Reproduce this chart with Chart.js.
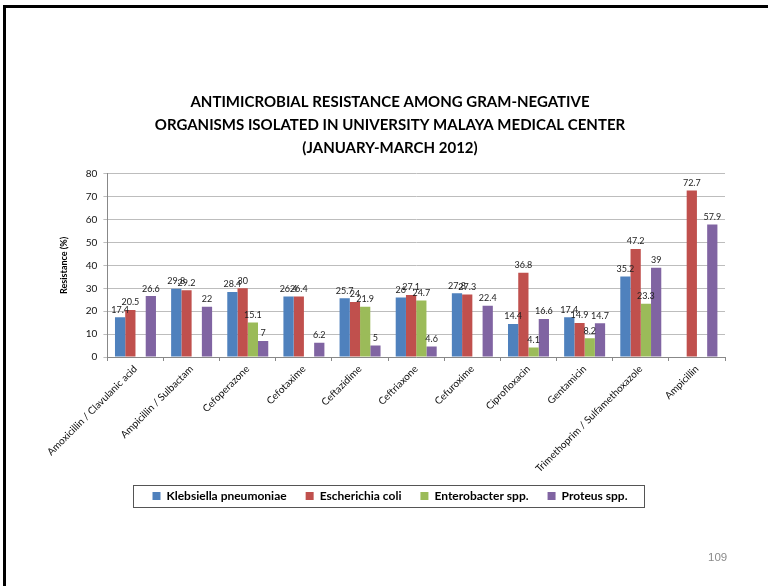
<!DOCTYPE html>
<html>
<head>
<meta charset="utf-8">
<script src="https://cdn.jsdelivr.net/npm/chart.js@4/dist/chart.umd.min.js"></script>
<style>
  html, body { margin: 0; padding: 0; background: #fff; }
  #wrap { position: relative; width: 768px; height: 586px; overflow: hidden; }
  #frame { position: absolute; left: 3px; top: 5px; width: 780px; height: 600px;
           border-top: 3px solid #000; border-left: 3px solid #000; box-sizing: border-box; }
  #c { position: absolute; left: 0; top: 0; }
  #page { position: absolute; left: 708px; top: 551px; font: 11.5px "Liberation Sans", Arial, sans-serif; color: #8a8a8a; }
</style>
</head>
<body>
<div id="wrap">
  <div id="frame"></div>
  <canvas id="c" width="768" height="586"></canvas>
  <div id="page">109</div>
</div>
<script>
const categories = [
  "Amoxicillin / Clavulanic acid", "Ampicillin / Sulbactam", "Cefoperazone", "Cefotaxime",
  "Ceftazidime", "Ceftriaxone", "Cefuroxime", "Ciprofloxacin", "Gentamicin",
  "Trimethoprim / Sulfamethoxazole", "Ampicillin"
];
const klebsiella   = [17.4, 29.8, 28.4, 26.4, 25.7, 26, 27.8, 14.4, 17.4, 35.2, null];
const ecoli        = [20.5, 29.2, 30, 26.4, 24, 27.1, 27.3, 36.8, 14.9, 47.2, 72.7];
const enterobacter = [null, null, 15.1, null, 21.9, 24.7, null, 4.1, 8.2, 23.3, null];
const proteus      = [26.6, 22, 7, 6.2, 5, 4.6, 22.4, 16.6, 14.7, 39, 57.9];
const seriesNames  = ["Klebsiella pneumoniae", "Escherichia coli", "Enterobacter spp.", "Proteus spp."];
const yTicks       = [0, 10, 20, 30, 40, 50, 60, 70, 80];
const titleLines   = [
  "ANTIMICROBIAL RESISTANCE AMONG GRAM-NEGATIVE",
  "ORGANISMS ISOLATED IN UNIVERSITY MALAYA MEDICAL CENTER",
  "(JANUARY-MARCH 2012)"
];

const colors = ["#4F81BD", "#C0504D", "#9BBB59", "#8064A2"];
const FONT = "Lato, 'Open Sans', sans-serif";

const valueLabels = {
  id: "valueLabels",
  afterDatasetsDraw(chart) {
    const ctx = chart.ctx;
    ctx.save();
    ctx.font = "9px " + FONT;
    ctx.fillStyle = "#222";
    ctx.textAlign = "center";
    ctx.textBaseline = "bottom";
    chart.data.datasets.forEach((ds, i) => {
      const meta = chart.getDatasetMeta(i);
      meta.data.forEach((el, j) => {
        const v = ds.data[j];
        if (v === null || v === undefined) return;
        ctx.fillText(String(v), el.x, el.y - 3);
      });
    });
    ctx.restore();
  }
};

const legendBox = {
  id: "legendBox",
  afterDraw(chart) {
    const lg = chart.legend;
    if (!lg || !lg.legendHitBoxes || !lg.legendHitBoxes.length) return;
    const hb = lg.legendHitBoxes;
    let minX = Infinity, maxX = -Infinity, minY = Infinity, maxY = -Infinity;
    hb.forEach(b => {
      minX = Math.min(minX, b.left); maxX = Math.max(maxX, b.left + b.width);
      minY = Math.min(minY, b.top); maxY = Math.max(maxY, b.top + b.height);
    });
    const ctx = chart.ctx;
    ctx.save();
    ctx.strokeStyle = "#555";
    ctx.lineWidth = 1;
    ctx.strokeRect(Math.round(minX - 19) + 0.5, Math.round(minY - 5) + 0.5,
                   Math.round(maxX - minX + 36), Math.round(maxY - minY + 10));
    ctx.restore();
  }
};

new Chart(document.getElementById("c"), {
  type: "bar",
  data: {
    labels: categories,
    datasets: [klebsiella, ecoli, enterobacter, proteus].map((d, i) => ({
      label: seriesNames[i],
      data: d,
      backgroundColor: colors[i],
      borderWidth: 0,
      categoryPercentage: 0.73,
      barPercentage: 1.0
    }))
  },
  options: {
    responsive: false,
    animation: false,
    layout: { padding: { left: 55, right: 43, top: 91, bottom: 74 } },
    plugins: {
      title: {
        display: true,
        text: titleLines,
        color: "#000",
        font: { family: FONT, size: 15, weight: "bold", lineHeight: 1.53 },
        padding: { top: 0, bottom: 14 }
      },
      legend: {
        display: true,
        position: "bottom",
        labels: {
          color: "#000",
          font: { family: FONT, size: 12, weight: "bold" },
          boxWidth: 8, boxHeight: 8, padding: 19
        }
      },
      tooltip: { enabled: false }
    },
    scales: {
      x: {
        grid: { display: true, drawOnChartArea: false, offset: true, tickLength: 4, color: "#888" },
        border: { color: "#888" },
        ticks: {
          color: "#111",
          font: { family: FONT, size: 10 },
          maxRotation: 45, minRotation: 45, autoSkip: false, padding: 2
        },
        afterFit(axis) { axis.height = 114; }
      },
      y: {
        min: 0, max: 80,
        afterBuildTicks(axis) { axis.ticks = yTicks.map(v => ({ value: v })); },
        grid: { color: "#bdbdbd", tickLength: 4, drawTicks: true },
        border: { color: "#888" },
        ticks: { color: "#111", font: { family: FONT, size: 10 }, padding: 6 },
        title: {
          display: true, text: "Resistance (%)", color: "#000",
          font: { family: FONT, size: 9, weight: "bold" }, padding: { bottom: 10 }
        }
      }
    }
  },
  plugins: [valueLabels, legendBox]
});
</script>
</body>
</html>
